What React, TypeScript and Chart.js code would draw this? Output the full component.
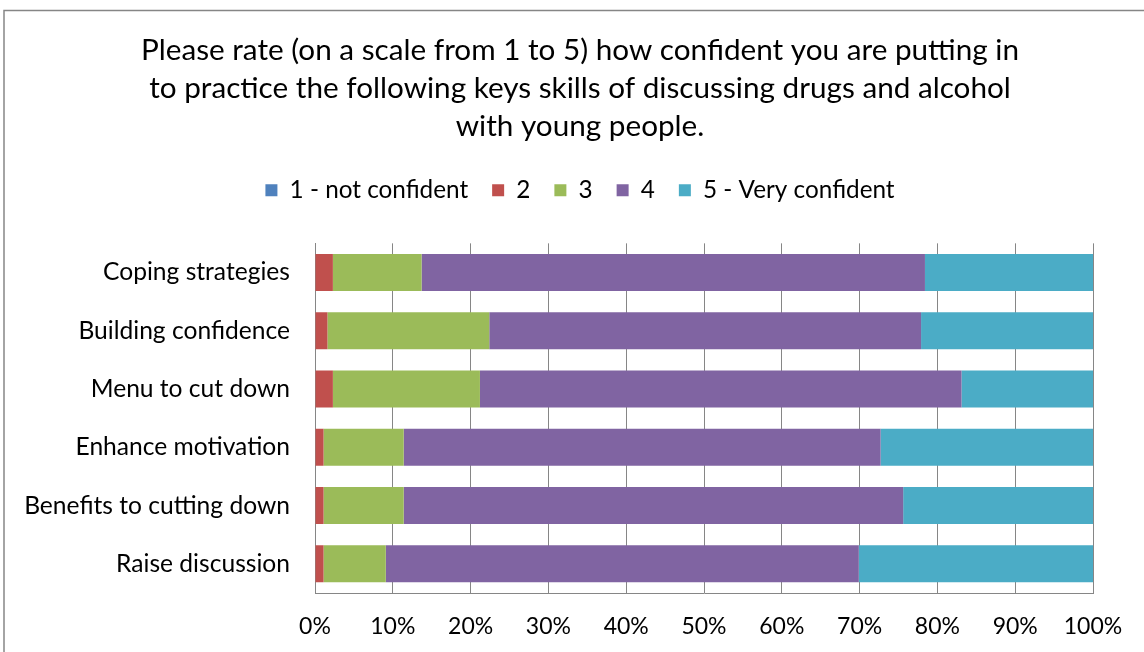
import React, { useEffect, useRef } from "react";
import { Chart, registerables } from "chart.js";

Chart.register(...registerables);

const titleLines = [
  "Please rate (on a scale from 1 to 5) how confident you are putting in",
  "to practice the following keys skills of discussing drugs and alcohol",
  "with young people.",
];
const categories = [
  "Coping strategies",
  "Building confidence",
  "Menu to cut down",
  "Enhance motivation",
  "Benefits to cutting down",
  "Raise discussion",
];
const seriesLabels = ["1 - not confident", "2", "3", "4", "5 - Very confident"];
const notConfident = [0, 0, 0, 0, 0, 0];
const rating2 = [2.3, 1.6, 2.3, 1.1, 1.1, 1.1];
const rating3 = [11.4, 20.8, 18.9, 10.3, 10.3, 8.0];
const rating4 = [64.7, 55.5, 61.9, 61.3, 64.2, 60.8];
const veryConfident = [21.6, 22.1, 16.9, 27.3, 24.4, 30.1];
const seriesColors = ["#4F81BD", "#C0504D", "#9BBB59", "#8064A2", "#4BACC6"];
const xTickValues = [0, 10, 20, 30, 40, 50, 60, 70, 80, 90, 100];

const FONT = "Lato, 'Open Sans', sans-serif";

export default function App() {
  const ref = useRef<HTMLCanvasElement | null>(null);

  useEffect(() => {
    if (!ref.current) return;
    const series = [notConfident, rating2, rating3, rating4, veryConfident];
    const framePlugin = {
      id: "frame",
      beforeDraw(chart: any) {
        const ctx = chart.ctx;
        ctx.save();
        ctx.fillStyle = "#ffffff";
        ctx.fillRect(0, 0, chart.width, chart.height);
        ctx.strokeStyle = "#868686";
        ctx.lineWidth = 1.5;
        ctx.beginPath();
        ctx.moveTo(4, chart.height);
        ctx.lineTo(4, 10.5);
        ctx.lineTo(chart.width, 10.5);
        ctx.stroke();
        ctx.restore();
      },
    };
    const legendMargin = {
      id: "legendMargin",
      beforeInit(chart: any) {
        const orig = chart.legend.fit;
        chart.legend.fit = function () {
          orig.bind(chart.legend)();
          this.height += 31;
        };
      },
      afterLayout(chart: any) {
        for (const box of [chart.titleBlock, chart.legend]) {
          if (!box) continue;
          box.left = 67;
          box.right = 1093;
          box.width = 1026;
        }
      },
    };
    const chart = new Chart(ref.current, {
      type: "bar",
      data: {
        labels: categories,
        datasets: series.map((d, i) => ({
          label: seriesLabels[i],
          data: d,
          backgroundColor: seriesColors[i],
          borderWidth: 0,
          barPercentage: 0.635,
          categoryPercentage: 1,
        })),
      },
      options: {
        indexAxis: "y",
        responsive: false,
        animation: false,
        layout: { padding: { left: 0, right: 51, top: 0, bottom: 0 } },
        plugins: {
          tooltip: { enabled: false },
          title: {
            display: true,
            text: titleLines,
            color: "#000",
            font: { family: FONT, size: 29.7, weight: "normal", lineHeight: 1.28 },
            padding: { top: 31, bottom: 9 },
          },
          legend: {
            display: true,
            position: "top",
            labels: {
              color: "#000",
              font: { family: FONT, size: 24.3 },
              boxWidth: 12,
              boxHeight: 12,
              padding: 24,
            },
          },
        },
        scales: {
          x: {
            stacked: true,
            min: 0,
            max: 100,
            afterFit(scale: any) {
              scale.height = 59;
            },
            afterBuildTicks(scale: any) {
              scale.ticks = xTickValues.map((v) => ({ value: v }));
            },
            ticks: {
              color: "#000",
              font: { family: FONT, size: 23 },
              callback: (v: any) => v + "%",
              padding: 20,
              maxRotation: 0,
            },
            grid: { color: "#868686", drawTicks: false },
            border: { color: "#868686" },
          },
          y: {
            stacked: true,
            afterFit(scale: any) {
              scale.width = 315;
            },
            ticks: {
              color: "#000",
              font: { family: FONT, size: 24.6 },
              padding: 25,
            },
            grid: { display: false, drawTicks: false },
            border: { display: true, color: "#868686" },
          },
        },
      },
      plugins: [framePlugin, legendMargin],
    } as any);
    return () => chart.destroy();
  }, []);

  return (
    <div style={{ position: "absolute", left: 0, top: 0, width: 1144, height: 652 }}>
      <canvas ref={ref} width={1144} height={652} style={{ width: 1144, height: 652, display: "block" }} />
    </div>
  );
}
